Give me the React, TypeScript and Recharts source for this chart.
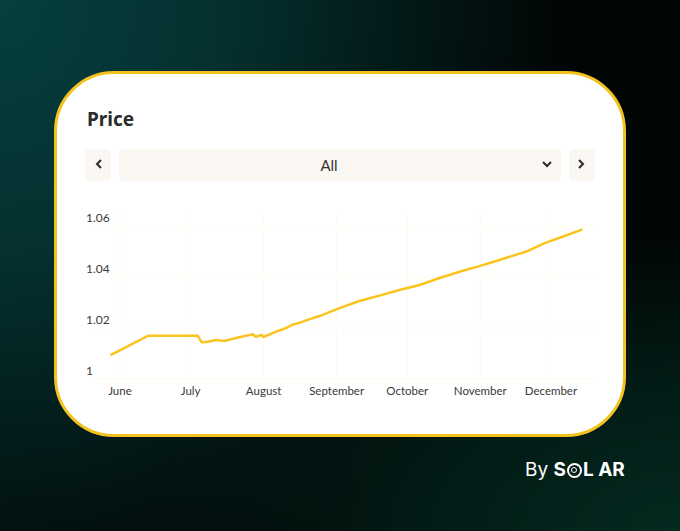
import React from 'react';
import { LineChart, Line, XAxis, YAxis, CartesianGrid } from 'recharts';

// days counted from June 1st
const days = [-4, 12, 33, 34.7, 37.3, 40.8, 44.4, 49.3, 52.1, 56.4, 57.8, 60, 61, 66.3, 70.6, 73.4, 76.2, 80.5, 84.7, 93.2, 101.7, 110.2, 118.7, 127.2, 135.7, 144.2, 152.6, 161.1, 172.6, 180.3, 188.8, 196.4];
const prices = [1.0094, 1.017, 1.017, 1.0144, 1.0146, 1.0153, 1.0149, 1.0161, 1.0167, 1.0175, 1.0165, 1.0173, 1.0165, 1.0186, 1.02, 1.0214, 1.022, 1.0235, 1.0247, 1.0278, 1.0306, 1.0327, 1.0349, 1.0369, 1.0396, 1.0421, 1.0443, 1.0467, 1.05, 1.0533, 1.0561, 1.0587];
const monthTicks = [0, 30, 61, 92, 122, 153, 183];
const monthLabels = ['June', 'July', 'August', 'September', 'October', 'November', 'December'];
const priceTicks = [1, 1.02, 1.04, 1.06];

const data = days.map((day, i) => ({ day, price: prices[i] }));

const font = '"Noto Sans", sans-serif';
const tickFont = 'Lato, sans-serif';

function PriceTick({ y, payload }: any) {
  return (
    <text x={86} y={y - 4} fontSize={12} fontFamily={tickFont} fill="#3a3a3a" textAnchor="start">
      {payload.value}
    </text>
  );
}

function Button({ left, width, children }: { left: number; width: number; children?: React.ReactNode }) {
  return (
    <div
      style={{
        position: 'absolute', left, top: 149, width, height: 32, borderRadius: 4, background: '#fbf8f3',
        display: 'flex', alignItems: 'center', justifyContent: 'center', color: '#333', fontFamily: tickFont, fontSize: 15,
      }}
    >
      {children}
    </div>
  );
}

function Chevron({ rotate, x, y }: { rotate: number; x: number; y: number }) {
  return (
    <svg width={12} height={12} viewBox="0 0 12 12" style={{ position: 'absolute', left: x, top: y, transform: `rotate(${rotate}deg)` }}>
      <path d="M4 2 L8 6 L4 10" fill="none" stroke="#2b2b2b" strokeWidth={2} />
    </svg>
  );
}

export default function App() {
  return (
    <div
      style={{
        position: 'absolute', left: 0, top: 0, width: 680, height: 531, overflow: 'hidden',
        background:
          'radial-gradient(ellipse 520px 300px at 680px 531px, #04291f 0%, rgba(3,35,28,0.7) 50%, rgba(0,0,0,0) 100%), radial-gradient(ellipse 560px 640px at 0px 0px, #053f3e 0%, #04302f 40%, #021716 75%, rgba(0,0,0,0) 100%), #010605',
      }}
    >
      <div
        style={{
          position: 'absolute', left: 54, top: 71, width: 566, height: 360, background: '#fff',
          border: '3px solid #f4c21f', borderRadius: 60,
        }}
      />
      <div style={{ position: 'absolute', left: 87, top: 105, fontFamily: font, fontWeight: 700, fontSize: 19, lineHeight: '28px', color: '#2a2a2a' }}>
        Price
      </div>

      <Button left={85} width={26} />
      <Chevron rotate={180} x={93} y={158} />
      <Button left={119} width={442}>
        <span style={{ marginRight: 22 }}>All</span>
      </Button>
      <Chevron rotate={90} x={541} y={158} />
      <Button left={569} width={26} />
      <Chevron rotate={0} x={575} y={158} />

      <div style={{ position: 'absolute', left: 0, top: 0 }}>
        <LineChart width={680} height={531} data={data} margin={{ left: 94, right: 85, top: 210, bottom: 122 }}>
          <CartesianGrid stroke="#fefbee" horizontalValues={priceTicks} verticalValues={monthTicks} />
          <XAxis
            dataKey="day"
            type="number"
            domain={[-10.6, 201.7]}
            ticks={monthTicks}
            interval={0}
            height={30}
            axisLine={{ stroke: '#fefbee' }}
            tickLine={false}
            tickMargin={2}
            tickFormatter={(d: number) => monthLabels[monthTicks.indexOf(d)]}
            tick={{ fontSize: 11.5, fontFamily: tickFont, fill: '#3a3a3a' }}
          />
          <YAxis
            type="number"
            domain={[1, 1.0663]}
            ticks={priceTicks}
            interval={0}
            width={1}
            axisLine={false}
            tickLine={false}
            tick={(props: any) => <PriceTick {...props} />}
            allowDataOverflow
          />
          <Line
            type="linear"
            dataKey="price"
            stroke="#fac31e"
            strokeWidth={2.5}
            dot={false}
            isAnimationActive={false}
          />
        </LineChart>
      </div>

      <div
        style={{
          position: 'absolute', left: 525, top: 458, fontFamily: 'Inter, sans-serif', fontSize: 19, lineHeight: '24px',
          color: '#fff', display: 'flex', alignItems: 'center', whiteSpace: 'pre',
        }}
      >
        <span>By </span>
        <span style={{ fontWeight: 700 }}>S</span>
        <span
          style={{
            display: 'inline-block', width: 15, height: 15, margin: '0 1px', borderRadius: '50%',
            border: '2px solid #fff', boxSizing: 'border-box', position: 'relative',
          }}
        >
          <span style={{ position: 'absolute', left: 2.5, top: 2.5, width: 6, height: 6, borderRadius: '50%', border: '1.5px solid #fff', boxSizing: 'border-box' }} />
        </span>
        <span style={{ fontWeight: 700 }}>L AR</span>
      </div>
    </div>
  );
}
